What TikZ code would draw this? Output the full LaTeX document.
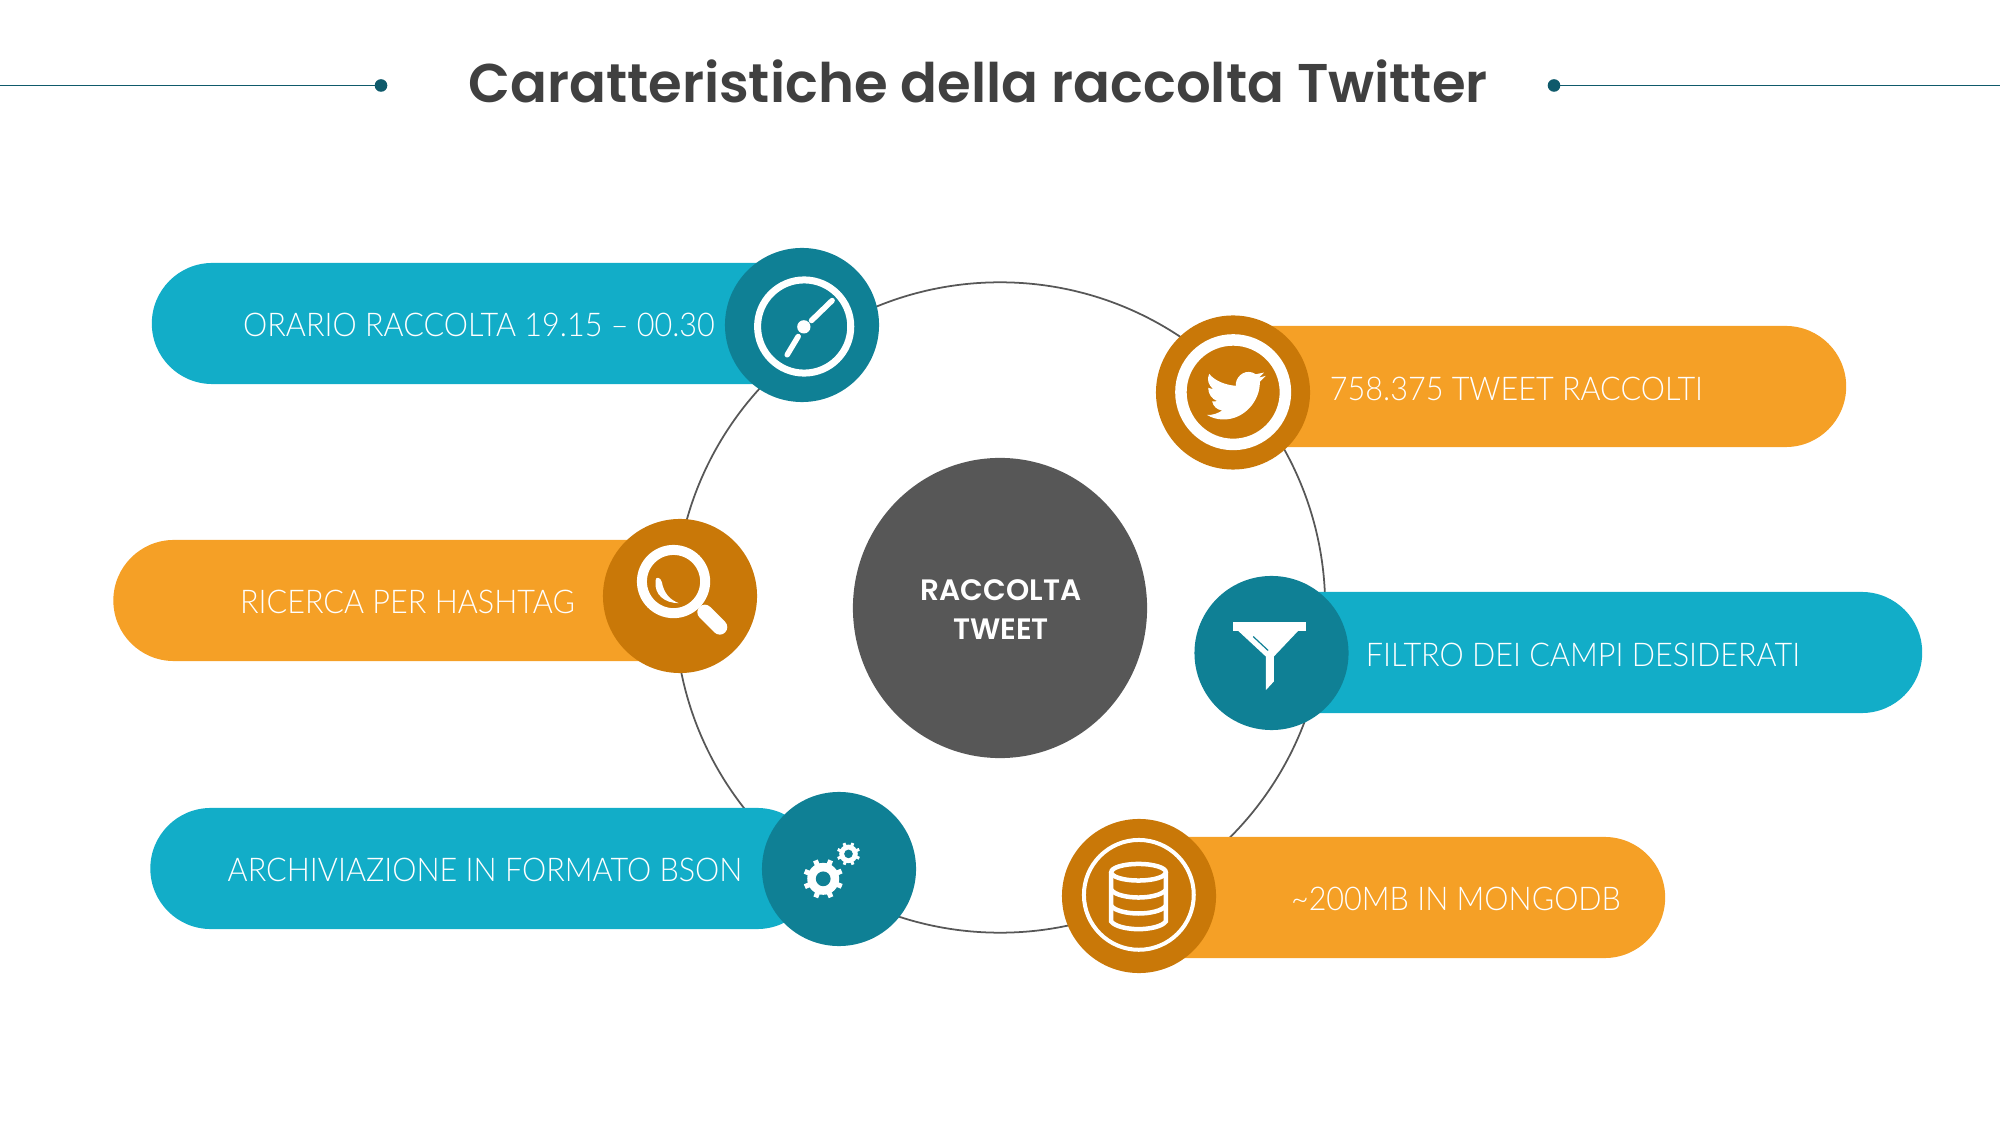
\documentclass[tikz,border=0pt]{standalone}
\usepackage{fontspec}
\setmainfont{Carlito}
\newfontfamily\titlefont{Poppins}[BoldFont={Poppins SemiBold}]
\newfontfamily\pillfont{Lato Light}[FakeStretch=0.935]
\usetikzlibrary{shapes.misc,shapes.geometric}
\definecolor{tealdark}{HTML}{0F8095}
\definecolor{teallight}{HTML}{12ADC8}
\definecolor{orangedark}{HTML}{C97808}
\definecolor{orangelight}{HTML}{F5A026}
\definecolor{greydisc}{HTML}{575757}
\definecolor{rulecol}{HTML}{0F5A6B}
\tikzset{
    pill/.style={rounded rectangle, minimum height=1.21cm, inner sep=0pt, outer sep=0pt},
    badge/.style={circle, minimum size=1.54cm, inner sep=0pt, outer sep=0pt},
    pilltext/.style={text=white, font=\pillfont\fontsize{9.3}{11}\selectfont, inner sep=0pt},
    disctext/.style={text=white, font=\titlefont\bfseries\fontsize{8.4}{10}\selectfont, inner sep=0pt},
    crop/.style 2 args={shift={(#1,#2)}, x=0.003333cm, y=-0.003333cm},
}
\newcommand{\gearicon}[4]{%
    \foreach \a in {0,45,...,315}
        \draw[white, line width=#4] (#1,#2) ++(\a+22:#3*0.72) -- ++(\a+22:#3*0.28);
    \fill[white] (#1,#2) circle [radius=#3*0.8];
    \fill[tealdark] (#1,#2) circle [radius=#3*0.37];
}
\begin{document}
\begin{tikzpicture}[x=0.01cm, y=-0.01cm]
    \useasboundingbox (0,0) rectangle (2000,1125);
    % title and its two rules
    \node(title) at (978,81){\titlefont\bfseries\color[HTML]{404040}\fontsize{15.5}{18}\selectfont Caratteristiche della raccolta Twitter};
    \coordinate(ruleAstart) at (0,85.5);
    \coordinate(ruleAend) at (381,85.5);
    \coordinate(ruleBstart) at (1554,85.5);
    \coordinate(ruleBend) at (2000,85.5);
    \draw[rulecol, line width=0.5pt] (ruleAstart) -- (ruleAend);
    \draw[rulecol, line width=0.5pt] (ruleBstart) -- (ruleBend);
    \fill[rulecol] (ruleAend) circle [radius=6.3];
    \fill[rulecol] (ruleBstart) circle [radius=6.3];
    % ring and centre
    \node(ring) at (1000,607.5)[circle, draw=greydisc, line width=0.5pt, minimum size=6.5cm]{};
    \node(centre) at (1000,608)[ellipse, fill=greydisc, minimum width=2.94cm, minimum height=3cm, inner sep=0pt]{};
    \node(centreA) at (1001,590)[disctext]{RACCOLTA};
    \node(centreB) at (1001,629)[disctext]{TWEET};
    % pills
    \node(pillorario) at (486,323.5)[pill, fill=teallight, minimum width=6.68cm]{};
    \node(pillricerca) at (407,600.5)[pill, fill=orangelight, minimum width=5.87cm]{};
    \node(pillarchivio) at (484,868.5)[pill, fill=teallight, minimum width=6.67cm]{};
    \node(pilltweet) at (1518,386.5)[pill, fill=orangelight, minimum width=6.56cm]{};
    \node(pillfiltro) at (1581,652.5)[pill, fill=teallight, minimum width=6.82cm]{};
    \node(pillmongo) at (1392.5,897.5)[pill, fill=orangelight, minimum width=5.45cm]{};
    % badges
    \node(badgeorario) at (802,325)[badge, fill=tealdark]{};
    \node(badgericerca) at (680,596)[badge, fill=orangedark]{};
    \node(badgearchivio) at (839,869)[badge, fill=tealdark]{};
    \node(badgetweet) at (1233,392.5)[badge, fill=orangedark]{};
    \node(badgefiltro) at (1271.5,653)[badge, fill=tealdark]{};
    \node(badgemongo) at (1139,896)[badge, fill=orangedark]{};
    % labels
    \node(textorario) at (479,325)[pilltext]{ORARIO RACCOLTA 19.15 – 00.30};
    \node(textricerca) at (407.5,602)[pilltext]{RICERCA PER HASHTAG};
    \node(textarchivio) at (485,870)[pilltext]{ARCHIVIAZIONE IN FORMATO BSON};
    \node(texttweet) at (1516.5,389)[pilltext]{758.375 TWEET RACCOLTI};
    \node(textfiltro) at (1583,655)[pilltext]{FILTRO DEI CAMPI DESIDERATI};
    \node(textmongo) at (1456,899)[pilltext]{\textasciitilde200MB IN MONGODB};
    % clock
    \begin{scope}[crop={700}{230}]
        \draw[white, line width=0.07cm] (313,290) circle [radius=140];
        \fill[white] (312,291) circle [radius=20];
        \draw[white, line width=0.055cm, line cap=round] (335,272) -- (397,212);
        \draw[white, line width=0.055cm, line cap=round] (295,320) -- (262,375);
    \end{scope}
    % bird
    \begin{scope}[crop={1130}{300}]
        \draw[white, line width=0.115cm] (310,277) circle [radius=157];
        \fill[white] (318,250) .. controls (322,225) and (350,205) .. (378,223) -- (403,218) -- (388,233) -- (408,228) -- (390,246)
            .. controls (392,300) and (345,360) .. (280,359) .. controls (262,359) and (245,354) .. (231,345)
            .. controls (248,347) and (265,340) .. (277,332) .. controls (262,330) and (250,320) .. (247,305) -- (262,304)
            .. controls (245,297) and (235,282) .. (235,264) -- (250,268) .. controls (235,255) and (230,238) .. (238,222)
            .. controls (255,243) and (285,255) .. (318,258) -- cycle;
    \end{scope}
    % magnifier
    \begin{scope}[crop={590}{505}]
        \draw[white, line width=0.1cm] (251,230) circle [radius=95];
        \draw[white, line width=0.15cm, line cap=round] (345,322) -- (390,367);
        \fill[white] (197,228) .. controls (195,215) and (212,215) .. (216,232) .. controls (222,265) and (240,285) .. (267,295)
            .. controls (225,295) and (192,270) .. (197,228) -- cycle;
    \end{scope}
    % funnel
    \begin{scope}[crop={1170}{565}]
        \fill[white] (190,172) -- (408,172) -- (408,198) -- (385,198) -- (312,275) -- (312,350) -- (288,376) -- (288,275) -- (205,198) -- (190,198) -- cycle;
        \draw[tealdark, line width=0.012cm] (250,215) -- (295,257);
    \end{scope}
    % gears
    \begin{scope}[crop={740}{780}]
        \gearicon{250}{297}{60}{0.05cm}
        \gearicon{326}{222}{35}{0.03cm}
    \end{scope}
    % database
    \begin{scope}[crop={1040}{810}]
        \draw[white, line width=0.04cm] (297,255) circle [radius=165];
        \begin{scope}[white, line width=0.045cm]
            \draw (296,187) ellipse [x radius=82, y radius=25];
            \draw (214,187) -- (214,335) .. controls (225,350) and (262,358) .. (296,358) .. controls (330,358) and (367,350) .. (378,335) -- (378,187);
            \draw (214,240) .. controls (225,255) and (262,263) .. (296,263) .. controls (330,263) and (367,255) .. (378,240);
            \draw (214,288) .. controls (225,303) and (262,311) .. (296,311) .. controls (330,311) and (367,303) .. (378,288);
        \end{scope}
    \end{scope}
\end{tikzpicture}
\end{document}
